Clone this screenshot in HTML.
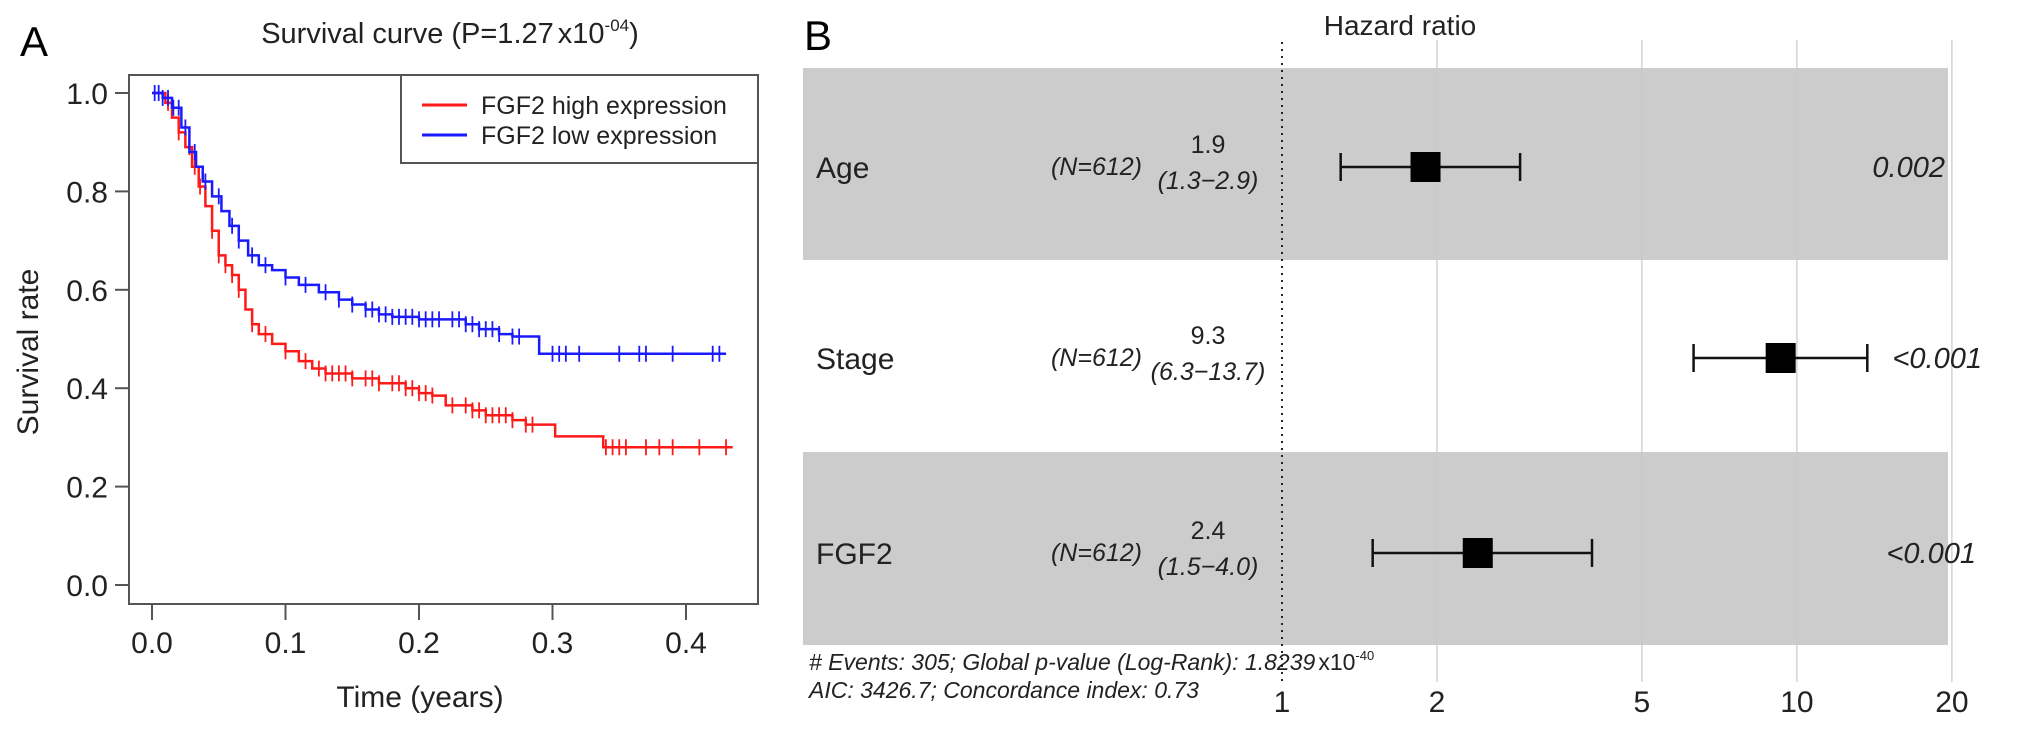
<!DOCTYPE html>
<html><head><meta charset="utf-8"><style>
html,body{margin:0;padding:0;background:#fff}
svg{display:block;font-family:"Liberation Sans",sans-serif}
</style></head><body>
<svg id="c" width="2032" height="732" viewBox="0 0 2032 732" xmlns="http://www.w3.org/2000/svg">
<text x="20" y="56" font-size="42">A</text>
<text x="450" y="43" font-size="29" text-anchor="middle" fill="#222">Survival curve (P=1.27<tspan dx="4">x10</tspan><tspan font-size="17" dy="-12">-04</tspan><tspan dy="12">)</tspan></text>
<g id="pa"></g>
<text x="804" y="50" font-size="42">B</text>
<g id="pb"></g>
</svg>
<script>
// ---- Panel A data ----
const xTicks=[0,0.1,0.2,0.3,0.4];
const xTickLabels=["0.0","0.1","0.2","0.3","0.4"];
const yTicks=[0,0.2,0.4,0.6,0.8,1.0];
const yTickLabels=["0.0","0.2","0.4","0.6","0.8","1.0"];
const highTimes=[0,0.01,0.015,0.02,0.025,0.03,0.035,0.04,0.045,0.05,0.055,0.06,0.065,0.07,0.075,0.08,0.09,0.1,0.11,0.12,0.13,0.15,0.17,0.19,0.2,0.21,0.22,0.24,0.25,0.27,0.28,0.302,0.338,0.435];
const highSurv=[1.0,0.98,0.95,0.92,0.89,0.85,0.81,0.77,0.72,0.67,0.65,0.63,0.6,0.56,0.53,0.51,0.49,0.475,0.455,0.44,0.43,0.42,0.41,0.4,0.39,0.385,0.365,0.355,0.345,0.335,0.326,0.302,0.28,0.28];
const highCensor=[0.012,0.02,0.028,0.032,0.036,0.045,0.05,0.055,0.06,0.065,0.075,0.085,0.1,0.115,0.125,0.13,0.135,0.14,0.145,0.15,0.16,0.165,0.17,0.18,0.185,0.19,0.195,0.2,0.205,0.21,0.225,0.235,0.24,0.245,0.25,0.255,0.26,0.265,0.27,0.28,0.285,0.34,0.345,0.35,0.355,0.37,0.38,0.39,0.41,0.43];
const lowTimes=[0,0.008,0.015,0.022,0.028,0.033,0.038,0.045,0.052,0.058,0.065,0.072,0.08,0.09,0.1,0.11,0.125,0.14,0.15,0.16,0.17,0.18,0.2,0.22,0.235,0.245,0.26,0.27,0.29,0.43];
const lowSurv=[1.0,0.99,0.97,0.93,0.88,0.85,0.82,0.79,0.76,0.73,0.7,0.67,0.65,0.64,0.625,0.61,0.595,0.58,0.57,0.56,0.55,0.545,0.54,0.54,0.53,0.52,0.51,0.505,0.47,0.47];
const lowCensor=[0.002,0.005,0.008,0.012,0.016,0.02,0.025,0.032,0.04,0.05,0.06,0.065,0.075,0.085,0.1,0.115,0.13,0.14,0.15,0.16,0.165,0.17,0.175,0.18,0.185,0.19,0.195,0.2,0.205,0.21,0.215,0.225,0.23,0.235,0.24,0.245,0.25,0.255,0.26,0.27,0.275,0.3,0.305,0.31,0.32,0.35,0.365,0.37,0.39,0.42,0.425];
// ---- Panel B data ----
const hrVars=["Age","Stage","FGF2"];
const hrN=["(N=612)","(N=612)","(N=612)"];
const hrEst=[1.9,9.3,2.4];
const hrLo=[1.3,6.3,1.5];
const hrHi=[2.9,13.7,4.0];
const hrEstLabels=["1.9","9.3","2.4"];
const hrCiLabels=["(1.3\u22122.9)","(6.3\u221213.7)","(1.5\u22124.0)"];
const hrP=["0.002","<0.001","<0.001"];
const hrTicks=[1,2,5,10,20];
const hrTickLabels=["1","2","5","10","20"];

const NS="http://www.w3.org/2000/svg";
function mk(parent,tag,attrs,text){const e=document.createElementNS(NS,tag);for(const k in attrs)e.setAttribute(k,attrs[k]);if(text!=null)e.textContent=text;parent.appendChild(e);return e;}

// Panel A
const pa=document.getElementById('pa');
const X=t=>152+t*1335, Y=s=>585-s*492;
let e=mk(pa,'rect',{x:129,y:75,width:629,height:529,fill:'none',stroke:'#555','stroke-width':2});

yTicks.forEach((v,i)=>{
  e=mk(pa,'line',{x1:115,x2:129,y1:Y(v),y2:Y(v),stroke:'#555','stroke-width':2});
  
  e=mk(pa,'text',{x:108,y:Y(v)+11,'font-size':30,'text-anchor':'end',fill:'#222'},yTickLabels[i]);
  
});
xTicks.forEach((v,i)=>{
  e=mk(pa,'line',{x1:X(v),x2:X(v),y1:604,y2:620,stroke:'#555','stroke-width':2});
  
  e=mk(pa,'text',{x:X(v),y:653,'font-size':30,'text-anchor':'middle',fill:'#222'},xTickLabels[i]);
  
});
e=mk(pa,'text',{x:420,y:707,'font-size':30,'text-anchor':'middle',fill:'#222'},'Time (years)');

e=mk(pa,'text',{x:0,y:0,'font-size':30,'text-anchor':'middle',fill:'#222',transform:'translate(38,352) rotate(-90)'},'Survival rate');

function survAt(ts,ss,t){let s=ss[0];for(let i=0;i<ts.length;i++){if(ts[i]<=t)s=ss[i];}return s;}
function drawCurve(ts,ss,cs,col,name){
  let d='M'+X(ts[0])+','+Y(ss[0]);
  for(let i=1;i<ts.length;i++){d+=' H'+X(ts[i])+' V'+Y(ss[i]);}
  e=mk(pa,'path',{d:d,fill:'none',stroke:col,'stroke-width':2.5});
  
  cs.forEach(t=>{const s=survAt(ts,ss,t);
    e=mk(pa,'line',{x1:X(t),x2:X(t),y1:Y(s)-8,y2:Y(s)+8,stroke:col,'stroke-width':1.8});
    
  });
}
drawCurve(highTimes,highSurv,highCensor,'#ff1a1a','high-expression');
drawCurve(lowTimes,lowSurv,lowCensor,'#1a1aff','low-expression');
e=mk(pa,'rect',{x:401,y:75,width:357,height:88,fill:'#fff',stroke:'#555','stroke-width':2});

e=mk(pa,'line',{x1:422,x2:467,y1:105,y2:105,stroke:'#ff1a1a','stroke-width':3});

e=mk(pa,'text',{x:481,y:114,'font-size':25,fill:'#222'},'FGF2 high expression');

e=mk(pa,'line',{x1:422,x2:467,y1:135,y2:135,stroke:'#1a1aff','stroke-width':3});

e=mk(pa,'text',{x:481,y:144,'font-size':25,fill:'#222'},'FGF2 low expression');


// Panel B
const pb=document.getElementById('pb');
const HX=v=>1282+155*Math.log2(v);
const rowTop=[68,260,452], rowH=[192,192,193], rowC=[167,358,553];
hrVars.forEach((v,i)=>{ if(i%2===0){
  e=mk(pb,'rect',{x:803,y:rowTop[i],width:1145,height:rowH[i],fill:'#cccccc'});
  }});
hrTicks.forEach((v,i)=>{
  if(v!==1){e=mk(pb,'line',{x1:HX(v),x2:HX(v),y1:40,y2:682,stroke:'#c8c8c8','stroke-width':1.2});
  }
  e=mk(pb,'text',{x:HX(v),y:712,'font-size':30,'text-anchor':'middle',fill:'#222'},hrTickLabels[i]);
  
});
e=mk(pb,'line',{x1:HX(1),x2:HX(1),y1:42,y2:684,stroke:'#222','stroke-width':2,'stroke-dasharray':'2,5'});

e=mk(pb,'text',{x:1400,y:35,'font-size':28,'text-anchor':'middle',fill:'#222'},'Hazard ratio');

hrVars.forEach((v,i)=>{
  const c=rowC[i];
  e=mk(pb,'text',{x:816,y:c+11,'font-size':30,fill:'#222'},v);
  
  e=mk(pb,'text',{x:1142,y:c+8,'font-size':25,'font-style':'italic','text-anchor':'end',fill:'#222'},hrN[i]);
  
  e=mk(pb,'text',{x:1208,y:c-14,'font-size':25,'text-anchor':'middle',fill:'#222'},hrEstLabels[i]);
  
  e=mk(pb,'text',{x:1208,y:c+22,'font-size':25,'font-style':'italic','text-anchor':'middle',fill:'#222'},hrCiLabels[i]);
  
  e=mk(pb,'line',{x1:HX(hrLo[i]),x2:HX(hrHi[i]),y1:c,y2:c,stroke:'#111','stroke-width':2.5});
  
  [hrLo[i],hrHi[i]].forEach(b=>{e=mk(pb,'line',{x1:HX(b),x2:HX(b),y1:c-14,y2:c+14,stroke:'#111','stroke-width':2.5});
    });
  e=mk(pb,'rect',{x:HX(hrEst[i])-15,y:c-15,width:30,height:30,fill:'#000'});
  
});
const pRight=[1945,1982,1976];
hrP.forEach((p,i)=>{e=mk(pb,'text',{x:pRight[i],y:rowC[i]+10,'font-size':29,'font-style':'italic','text-anchor':'end',fill:'#222'},p);
  });
e=mk(pb,'text',{x:809,y:670,'font-size':23,'font-style':'italic',fill:'#222'});
e.innerHTML='# Events: 305; Global p-value (Log-Rank): 1.8239<tspan font-style="normal" dx="3">x10</tspan><tspan font-style="normal" font-size="13" dy="-10">-40</tspan>';

e=mk(pb,'text',{x:809,y:698,'font-size':23,'font-style':'italic',fill:'#222'},'AIC: 3426.7; Concordance index: 0.73');

</script>
</body></html>
